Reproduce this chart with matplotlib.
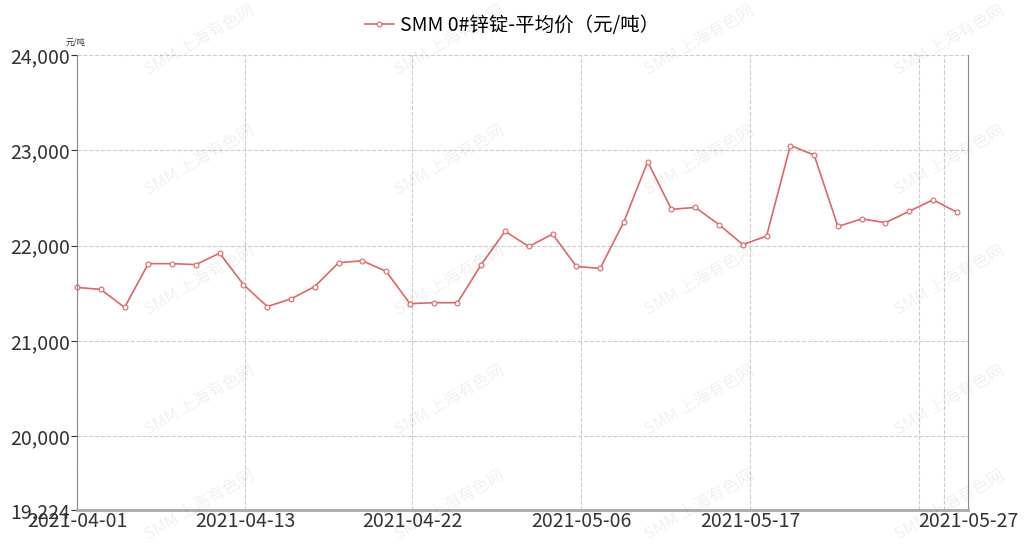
import matplotlib
matplotlib.use("Agg")
import matplotlib.pyplot as plt
from matplotlib.ticker import FuncFormatter

plt.rcParams['font.family'] = ['Noto Sans CJK SC', 'DejaVu Sans']

values = [21560, 21540, 21350, 21810, 21810, 21800, 21920, 21590, 21360, 21440,
          21570, 21820, 21840, 21730, 21390, 21400, 21400, 21800, 22150, 21990,
          22120, 21780, 21760, 22250, 22880, 22380, 22400, 22220, 22010, 22100,
          23050, 22950, 22200, 22280, 22240, 22360, 22480, 22350]
tick_pos = [0, 7.06, 14.1, 21.2, 28.3, 37.47]
tick_labels = ['2021-04-01', '2021-04-13', '2021-04-22', '2021-05-06', '2021-05-17', '2021-05-27']
grid_x = [0, 7.06, 14.1, 21.2, 28.3, 35.4, 36.45]
yticks = [19224, 20000, 21000, 22000, 23000, 24000]
series_name = 'SMM 0#锌锭-平均价（元/吨）'
color = '#e06666'

fig = plt.figure(figsize=(10.24, 5.5), dpi=100)
ax = fig.add_axes([77/1024, 40/550, (968-77)/1024, (510-55)/550])
x = list(range(len(values)))
ax.plot(x, values, color=color, lw=1.2, marker='o', ms=3.5, mfc='white',
        mec=color, mew=0.8, label=series_name, clip_on=False)
ax.set_xlim(0, 37.47)
ax.set_ylim(19224, 24000)
ax.set_yticks(yticks)
ax.yaxis.set_major_formatter(FuncFormatter(lambda v, p: f'{int(v):,}'))
ax.set_xticks(tick_pos)
ax.set_xticklabels(tick_labels)
ax.tick_params(axis='both', labelsize=14, colors='#333333', length=4, pad=1)
ax.tick_params(axis='x', length=0)
for gx in grid_x:
    ax.axvline(gx, color='#cccccc', ls='--', lw=0.8, zorder=0)
for gy in yticks[1:]:
    ax.axhline(gy, color='#cccccc', ls='--', lw=0.8, zorder=0)
ax.spines['top'].set_visible(False)
for s in ['left', 'right']:
    ax.spines[s].set_color('#888888')
ax.spines['bottom'].set_color('#aaaaaa')
ax.spines['bottom'].set_linewidth(2)
fig.text(66/1024, 1 - 44/550, '元/吨', fontsize=6, color='#333333')
fig.legend(loc='upper center', bbox_to_anchor=(0.5, 1.005), frameon=False,
           fontsize=14, handlelength=1.5, handletextpad=0.3)
for wx in [200, 450, 700, 950]:
    for wy in [40, 160, 280, 400, 505]:
        fig.text(wx/1024, 1 - wy/550, 'SMM 上海有色网', fontsize=12, color='#000000',
                 alpha=0.06, rotation=30, ha='center', va='center')
fig.savefig('out.png', dpi=100)
